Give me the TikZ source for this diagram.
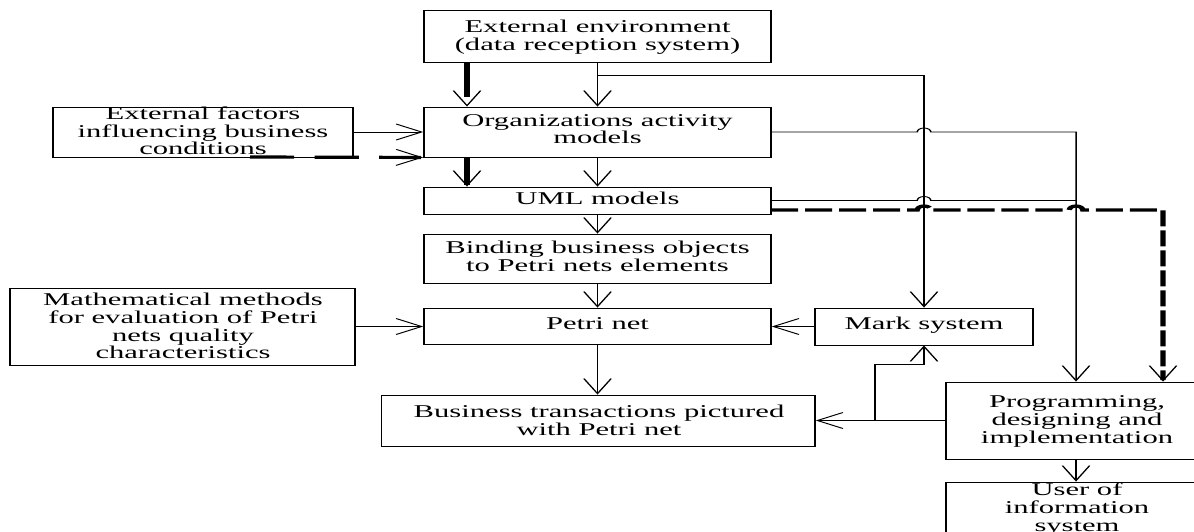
\documentclass[tikz,border=0pt]{standalone}
\usepackage{fontspec}
\setmainfont{Liberation Serif}
\usetikzlibrary{arrows.meta,calc}
\tikzset{
  box/.style={draw, line width=0.9pt, inner sep=0pt, rectangle},
  wh/.style 2 args={minimum width={#1pt/1.7}, minimum height=#2pt},
  txt/.style={inner sep=0pt, align=center, font=\fontsize{18}{17.7}\selectfont},
  ln/.style={line width=0.9pt},
  arr/.style={ln, -{Straight Barb[length=15pt,width=16pt,line width=0.9pt]}},
  tharr/.style={line width=3.2pt, -{Straight Barb[length=15pt,width=16pt,line width=0.9pt]}},
  hop/.style={},
}
\begin{document}
\begin{tikzpicture}[x=1pt,y=-1pt]
\fill[white] (0,0) rectangle (1194,531);
\useasboundingbox (0,0) rectangle (1194,531);
\clip (0,0) rectangle (1194,531);
\begin{scope}[transform canvas={xscale=1.7}, x=0.5882353pt]
  % boxes
  \node[box, wh={347}{52}]   (env)   at (597.5,36) {};
  \node[box, wh={347}{50}]   (org)   at (597.5,132) {};
  \node[box, wh={300}{50}]   (fac)   at (203,132) {};
  \node[box, wh={347}{27}]   (uml)   at (597.5,200.5) {};
  \node[box, wh={347}{49}]   (bind)  at (597.5,258.5) {};
  \node[box, wh={347}{36}]   (petri) at (597.5,326) {};
  \node[box, wh={345}{77}]   (math)  at (182.5,326.5) {};
  \node[box, wh={433.5}{51}] (bus)   at (598.25,420.5) {};
  \node[box, wh={218}{37}]   (mark)  at (924,326.5) {};
  \node[box, wh={262}{77}]   (prog)  at (1077,420.5) {};
  \node[box, wh={262}{78}]   (user)  at (1077,521) {};
  % texts
  \node[txt] (envT)   at (597.5,37)   {External environment\\(data reception system)};
  \node[txt] (orgT)   at (597.5,129)  {Organizations activity\\models};
  \node[txt] (facT)   at (203,131)    {External factors\\influencing business\\conditions};
  \node[txt] (umlT)   at (597.5,198)  {UML models};
  \node[txt] (bindT)  at (597.5,256)  {Binding business objects\\to Petri nets elements};
  \node[txt] (petriT) at (597.5,324)  {Petri net};
  \node[txt] (mathT)  at (183,326)    {Mathematical methods\\for evaluation of Petri\\nets quality\\characteristics};
  \node[txt] (busT)   at (599,420)    {Business transactions pictured\\with Petri net};
  \node[txt] (markT)  at (924,325)    {Mark system};
  \node[txt] (progT)  at (1077,421.3) {Programming,\\designing and\\implementation};
  \node[txt] (userT)  at (1077,509)   {User of\\information\\system};
  % helper coordinates
  \coordinate (xa) at (467,0);
  \coordinate (xv) at (1076,0);
  \coordinate (xd) at (1163,0);
  \coordinate (j1) at (597.5,75);
  \coordinate (facd) at (250,157);
  \coordinate (ud) at (771,210);
  \coordinate (br) at (875,420.5);
  \coordinate (br2) at (875,364);
  % connectors
  \draw[arr] (env.south) -- (org.north);
  \draw[arr] (j1) -| (mark.north);
  \draw[tharr, dash pattern=on 35pt off 10pt] (env.south -| xa) -- (org.north -| xa);
  \draw[arr] (fac.east) -- (org.west);
  \draw[tharr, dash pattern=on 26pt off 12pt] (facd) -- (org.south west);
  \draw[tharr] (org.south -| xa) -- (uml.north -| xa);
  \draw[arr] (org.south) -- (uml.north);
  \draw[arr] (uml.south) -- (bind.north);
  \draw[arr] (bind.south) -- (petri.north);
  \draw[arr] (math.east) -- (math.east -| petri.west);
  \draw[arr] (mark.west) -- (mark.west -| petri.east);
  \draw[arr] (petri.south) -- (petri.south |- bus.north);
  \draw[arr] (prog.west) -- (prog.west -| bus.east);
  \draw[arr] (br) -- (br2) -| (mark.south);
  \draw[arr] (org.east) -- ($(org.east -| mark.north)+(-4pt,0)$)
     arc[start angle=180,end angle=0,radius=4pt] -- (org.east -| xv) -- (prog.north -| xv);
  \draw[ln] (uml.east) -- ($(uml.east -| mark.north)+(-4pt,0)$)
     arc[start angle=180,end angle=0,radius=4pt] -- (uml.east -| xv);
  \draw[tharr, dash pattern=on 16pt off 4pt] (ud) -- ($(ud -| mark.north)+(-4pt,0)$)
     arc[start angle=180,end angle=0,radius=4pt] -- ($(ud -| xv)+(-4pt,0)$)
     arc[start angle=180,end angle=0,radius=4pt] -- (ud -| xd) -- (prog.north -| xd);
  \draw[arr] (prog.south -| xv) -- (user.north -| xv);
\end{scope}
\end{tikzpicture}
\end{document}
